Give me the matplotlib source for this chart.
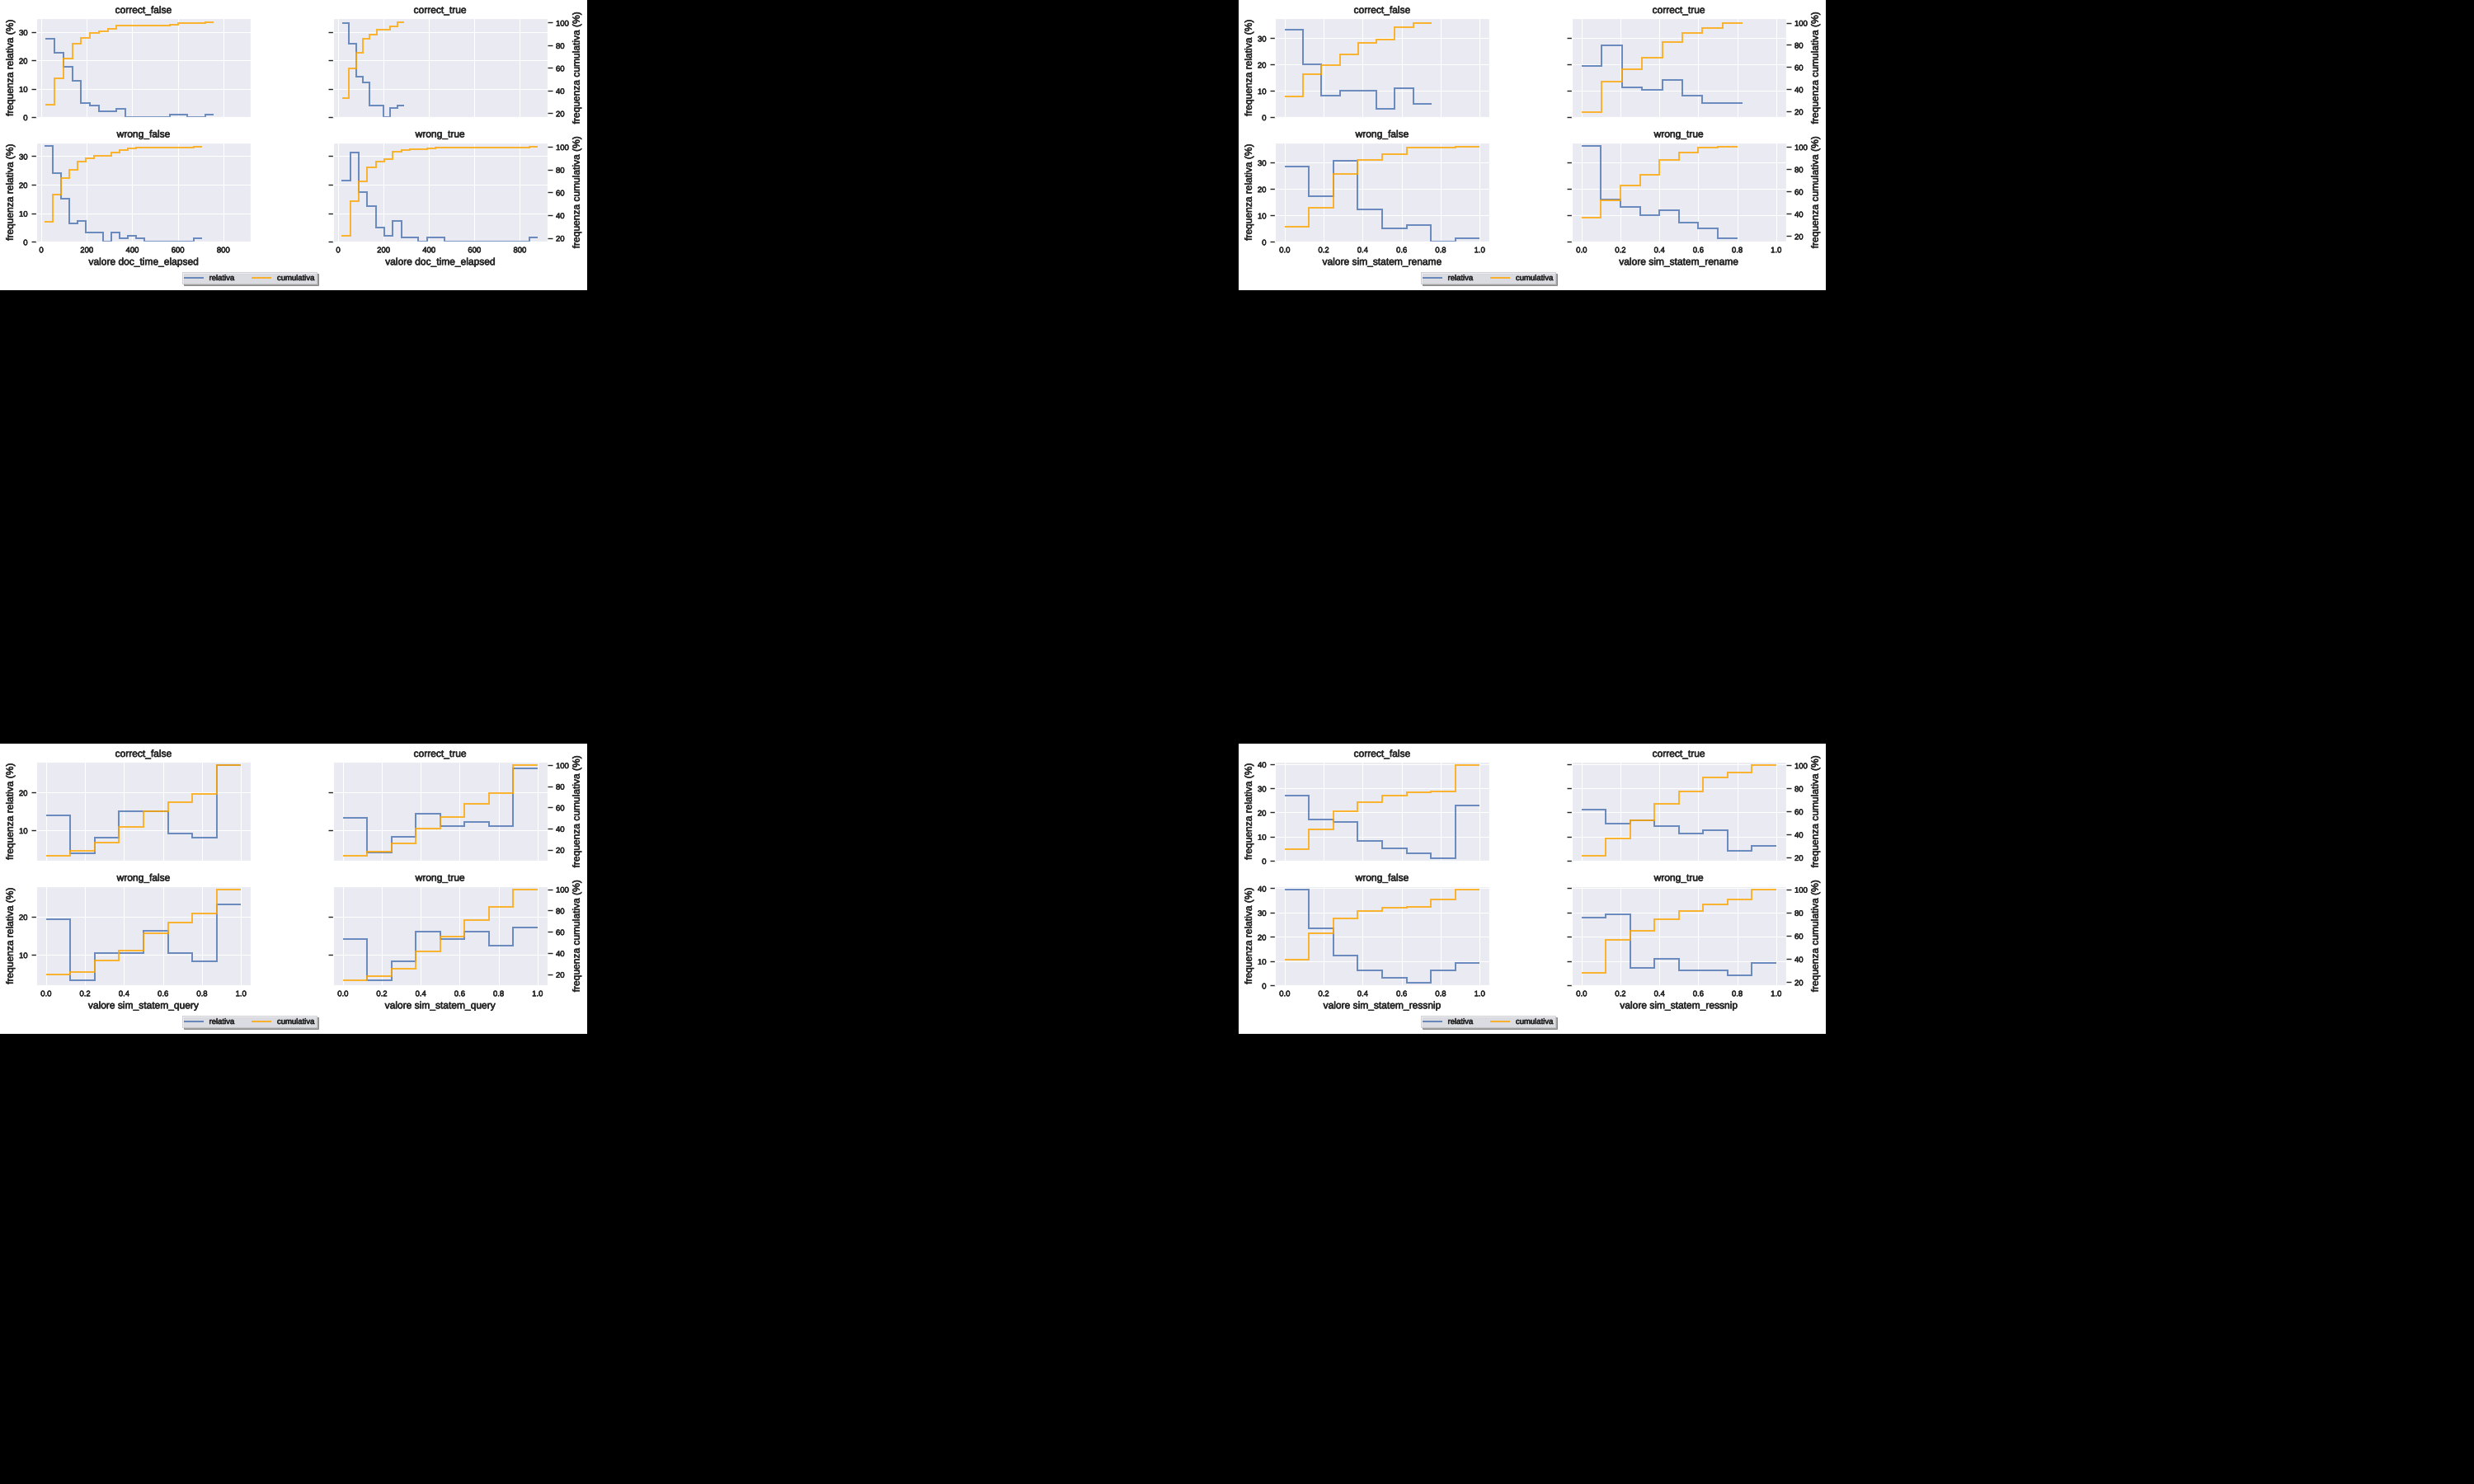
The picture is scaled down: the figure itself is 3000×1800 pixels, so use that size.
import numpy as np
import matplotlib
matplotlib.use("Agg")
import matplotlib.pyplot as plt
import matplotlib.patheffects as pe
from matplotlib.patches import Rectangle
from matplotlib.lines import Line2D
from matplotlib.text import Text
from matplotlib.ticker import MultipleLocator

# ------------------------------------------------------------------ data
subsets = ['correct_false', 'correct_true', 'wrong_false', 'wrong_true']
variables = ['doc_time_elapsed', 'sim_statem_rename', 'sim_statem_query', 'sim_statem_ressnip']
legend_labels = ['relativa', 'cumulativa']

# doc_time_elapsed
doc_correct_false_range = [19.3, 759.0]
doc_correct_false_rel = [27.7, 22.8, 17.8, 12.9, 5.0, 4.0, 2.0, 2.0, 3.0, 0, 0, 0, 0, 0, 1.0, 1.0, 0, 0, 1.0]
doc_correct_false_cum = [27.3, 50.6, 68.1, 81.5, 86.6, 90.8, 92.5, 94.7, 97.6, 97.6, 97.6, 97.6, 97.6, 97.6,
                         98.5, 99.5, 99.5, 99.5, 100.0]
doc_correct_true_range = [18.2, 290.5]
doc_correct_true_rel = [33.1, 26.0, 14.3, 12.2, 4.1, 4.1, 0, 3.2, 4.1]
doc_correct_true_cum = [33.4, 59.9, 73.7, 85.7, 89.5, 93.9, 93.9, 96.6, 100.0]
doc_wrong_false_range = [14.5, 708.0]
doc_wrong_false_rel = [33.7, 24.2, 15.2, 6.3, 7.4, 3.2, 3.2, 0, 3.2, 1.2, 2.1, 1.2, 0, 0, 0, 0, 0, 0, 1.2]
doc_wrong_false_cum = [34.0, 57.8, 72.8, 79.5, 86.7, 89.6, 92.3, 92.3, 95.2, 97.1, 98.8, 99.5, 99.5, 99.5,
                       99.5, 99.5, 99.5, 99.5, 100.0]
doc_wrong_true_range = [15.7, 880.0]
doc_wrong_true_rel = [21.4, 31.4, 17.3, 12.4, 5.0, 2.1, 7.2, 1.4, 1.4, 0, 1.4, 1.4,
                      0, 0, 0, 0, 0, 0, 0, 0, 0, 0, 1.4]
doc_wrong_true_cum = [21.7, 52.5, 69.4, 81.9, 86.7, 89.2, 95.7, 96.9, 97.6, 97.6, 98.6, 99.5,
                      99.5, 99.5, 99.5, 99.5, 99.5, 99.5, 99.5, 99.5, 99.5, 99.5, 100.0]

# sim_statem_rename
rename_correct_false_range = [0.0, 0.754]
rename_correct_false_rel = [33.3, 20.1, 8.2, 10.1, 10.1, 3.1, 11.1, 5.0]
rename_correct_false_cum = [33.6, 53.7, 61.9, 71.5, 81.9, 84.6, 96.0, 100.0]
rename_correct_true_range = [0.0, 0.829]
rename_correct_true_rel = [19.4, 27.4, 11.3, 10.3, 14.2, 8.2, 5.3, 5.3]
rename_correct_true_cum = [19.3, 47.0, 58.1, 68.5, 82.7, 90.8, 95.5, 100.0]
rename_wrong_false_range = [0.0, 1.0]
rename_wrong_false_rel = [28.3, 17.3, 30.5, 12.3, 5.1, 6.3, 0, 1.3]
rename_wrong_false_cum = [28.2, 45.5, 75.7, 88.4, 93.5, 99.0, 99.0, 100.0]
rename_wrong_true_range = [0.0, 0.8]
rename_wrong_true_rel = [36.1, 16.1, 13.3, 10.2, 12.0, 7.3, 5.2, 1.2]
rename_wrong_true_cum = [36.3, 52.2, 65.3, 75.2, 87.9, 94.6, 99.2, 100.0]

# sim_statem_query
query_correct_false_range = [0.0, 1.0]
query_correct_false_rel = [14.0, 4.0, 8.1, 15.1, 15.1, 9.1, 8.1, 27.3]
query_correct_false_cum = [14.4, 18.6, 26.4, 41.5, 56.3, 65.2, 72.9, 100.0]
query_correct_true_range = [0.0, 1.0]
query_correct_true_rel = [13.2, 4.1, 8.2, 14.3, 11.2, 12.2, 11.2, 26.3]
query_correct_true_cum = [14.1, 18.0, 25.6, 40.2, 50.9, 63.2, 73.7, 100.0]
query_wrong_false_range = [0.0, 1.0]
query_wrong_false_rel = [19.3, 3.3, 10.4, 10.4, 16.3, 10.4, 8.2, 23.3]
query_wrong_false_cum = [19.5, 22.3, 32.6, 42.6, 58.5, 68.7, 76.9, 100.0]
query_wrong_true_range = [0.0, 1.0]
query_wrong_true_rel = [14.2, 3.3, 8.2, 16.1, 14.2, 16.1, 12.3, 17.1]
query_wrong_true_cum = [14.6, 17.9, 25.6, 41.8, 55.4, 71.0, 83.3, 100.0]

# sim_statem_ressnip
ressnip_correct_false_range = [0.0, 1.0]
ressnip_correct_false_rel = [27.1, 17.1, 16.1, 8.2, 5.1, 3.1, 1.0, 23.0]
ressnip_correct_false_cum = [27.0, 44.5, 60.4, 68.0, 73.3, 76.2, 76.9, 100.0]
ressnip_correct_true_range = [0.0, 1.0]
ressnip_correct_true_rel = [21.3, 15.4, 16.6, 14.5, 11.3, 12.5, 4.2, 6.2]
ressnip_correct_true_cum = [21.2, 36.3, 52.4, 66.6, 77.4, 89.7, 94.0, 100.0]
ressnip_wrong_false_range = [0.0, 1.0]
ressnip_wrong_false_rel = [39.5, 23.4, 12.3, 6.3, 3.2, 1.1, 6.3, 9.4]
ressnip_wrong_false_cum = [39.6, 62.3, 74.7, 81.1, 84.0, 84.7, 91.2, 100.0]
ressnip_wrong_true_range = [0.0, 1.0]
ressnip_wrong_true_rel = [28.1, 29.3, 7.3, 11.1, 6.2, 6.2, 4.3, 9.3]
ressnip_wrong_true_cum = [27.9, 56.5, 63.9, 74.4, 81.1, 87.0, 91.2, 100.0]

panel_data = {
    'doc_time_elapsed': {
        'correct_false': (doc_correct_false_range, doc_correct_false_rel, doc_correct_false_cum),
        'correct_true': (doc_correct_true_range, doc_correct_true_rel, doc_correct_true_cum),
        'wrong_false': (doc_wrong_false_range, doc_wrong_false_rel, doc_wrong_false_cum),
        'wrong_true': (doc_wrong_true_range, doc_wrong_true_rel, doc_wrong_true_cum),
    },
    'sim_statem_rename': {
        'correct_false': (rename_correct_false_range, rename_correct_false_rel, rename_correct_false_cum),
        'correct_true': (rename_correct_true_range, rename_correct_true_rel, rename_correct_true_cum),
        'wrong_false': (rename_wrong_false_range, rename_wrong_false_rel, rename_wrong_false_cum),
        'wrong_true': (rename_wrong_true_range, rename_wrong_true_rel, rename_wrong_true_cum),
    },
    'sim_statem_query': {
        'correct_false': (query_correct_false_range, query_correct_false_rel, query_correct_false_cum),
        'correct_true': (query_correct_true_range, query_correct_true_rel, query_correct_true_cum),
        'wrong_false': (query_wrong_false_range, query_wrong_false_rel, query_wrong_false_cum),
        'wrong_true': (query_wrong_true_range, query_wrong_true_rel, query_wrong_true_cum),
    },
    'sim_statem_ressnip': {
        'correct_false': (ressnip_correct_false_range, ressnip_correct_false_rel, ressnip_correct_false_cum),
        'correct_true': (ressnip_correct_true_range, ressnip_correct_true_rel, ressnip_correct_true_cum),
        'wrong_false': (ressnip_wrong_false_range, ressnip_wrong_false_rel, ressnip_wrong_false_cum),
        'wrong_true': (ressnip_wrong_true_range, ressnip_wrong_true_rel, ressnip_wrong_true_cum),
    },
}

# ------------------------------------------------------------------ style
W, H, DPI = 3000, 1800, 72
BLUE = '#4c72b0'
ORANGE = '#ffa500'
DARK = '#262626'

plt.rcParams.update({
    'font.family': ['Liberation Sans', 'DejaVu Sans'],
    'axes.facecolor': '#EAEAF2',
    'axes.edgecolor': 'white',
    'axes.linewidth': 1.25,
    'axes.grid': True,
    'axes.axisbelow': True,
    'grid.color': 'white',
    'grid.linewidth': 1.0,
    'text.color': DARK,
    'axes.labelcolor': DARK,
    'xtick.color': DARK,
    'ytick.color': DARK,
    'xtick.major.size': 0,
    'ytick.major.size': 6,
    'ytick.major.width': 1.4,
    'xtick.major.pad': 5,
    'ytick.major.pad': 4.5,
    'xtick.labelsize': 9.5,
    'ytick.labelsize': 9.5,
    'axes.labelsize': 12,
    'axes.titlesize': 12,
    'axes.titlepad': 6,
    'axes.labelpad': 4,
    'legend.fontsize': 9.5,
})

fig = plt.figure(figsize=(W / DPI, H / DPI), dpi=DPI, facecolor='black')

PANEL_W, PANEL_H = 712, 352
COLS = [(44.0, 304.0), (404.0, 663.5)]
ROWS = [(22.0, 142.0), (172.5, 293.3)]

panel_specs = [
    # variable, offset, xlim, xstep, rel ylim, cum ylim
    ('doc_time_elapsed', (0, 0), (-22.0, 920.5), 200, (0.0, 34.9), (16.6, 104.0)),
    ('sim_statem_rename', (1502, 0), (-0.05, 1.05), 0.2, (0.0, 37.65), (14.9, 104.1)),
    ('sim_statem_query', (0, 902), (-0.05, 1.05), 0.2, (1.95, 28.1), (9.5, 103.1)),
    ('sim_statem_ressnip', (1502, 902), (-0.05, 1.05), 0.2, (0.0, 41.0), (17.1, 103.0)),
]


def frac_rect(px, py, x0, x1, y0, y1):
    return [(px + x0) / W, 1 - (py + y1) / H, (x1 - x0) / W, (y1 - y0) / H]


for var, (px, py), xlim, xstep, ylim_rel, ylim_cum in panel_specs:
    fig.add_artist(Rectangle((px / W, 1 - (py + PANEL_H) / H), PANEL_W / W, PANEL_H / H,
                             transform=fig.transFigure, facecolor='white',
                             edgecolor='none', zorder=-5))
    for i, sub in enumerate(subsets):
        r, c = divmod(i, 2)
        (x0, x1), (y0, y1) = COLS[c], ROWS[r]
        ax = fig.add_axes(frac_rect(px, py, x0, x1, y0, y1))
        rng, rel, cum = panel_data[var][sub]
        edges = np.linspace(rng[0], rng[1], len(rel) + 1)
        ax.stairs(rel, edges, baseline=None, color=BLUE, alpha=0.8, linewidth=2)
        ax.set_xlim(*xlim)
        ax.set_ylim(*ylim_rel)
        ax.xaxis.set_major_locator(MultipleLocator(xstep))
        ax.yaxis.set_major_locator(MultipleLocator(10))
        ax.set_title(sub)
        ax.tick_params(axis='x', length=0)
        if r == 0:
            ax.tick_params(labelbottom=False)
        else:
            ax.set_xlabel(f'valore {var}')
        if c == 0:
            ax.set_ylabel('frequenza relativa (%)')
        else:
            ax.tick_params(labelleft=False)

        axt = ax.twinx()
        axt.grid(False)
        axt.stairs(cum, edges, baseline=None, color=ORANGE, alpha=0.8, linewidth=2)
        axt.set_ylim(*ylim_cum)
        axt.set_xlim(*xlim)
        for s in axt.spines.values():
            s.set_visible(False)
        if c == 0:
            axt.tick_params(right=False, labelright=False)
        else:
            axt.yaxis.set_major_locator(MultipleLocator(20))
            axt.set_ylabel('frequenza cumulativa (%)')

    handles = [Line2D([], [], color=BLUE, alpha=0.8, linewidth=2),
               Line2D([], [], color=ORANGE, alpha=0.8, linewidth=2)]
    fig.legend(handles, legend_labels, loc='center',
               bbox_to_anchor=((px + 302.5) / W, 1 - (py + 337.0) / H),
               ncol=2, frameon=True, shadow=True, fancybox=False,
               facecolor='#EAEAF2', edgecolor='#c8c8c8', framealpha=0.8,
               handlelength=2.3, handletextpad=0.85, columnspacing=2.3,
               borderpad=0.25, borderaxespad=0)

# draw once so that tick labels exist, then give every text a slightly heavier stroke
fig.canvas.draw()
for t in fig.findobj(Text):
    if t.get_text():
        t.set_path_effects([pe.withStroke(linewidth=0.6, foreground=t.get_color())])

fig.savefig('out.png', dpi=DPI, facecolor='black')
